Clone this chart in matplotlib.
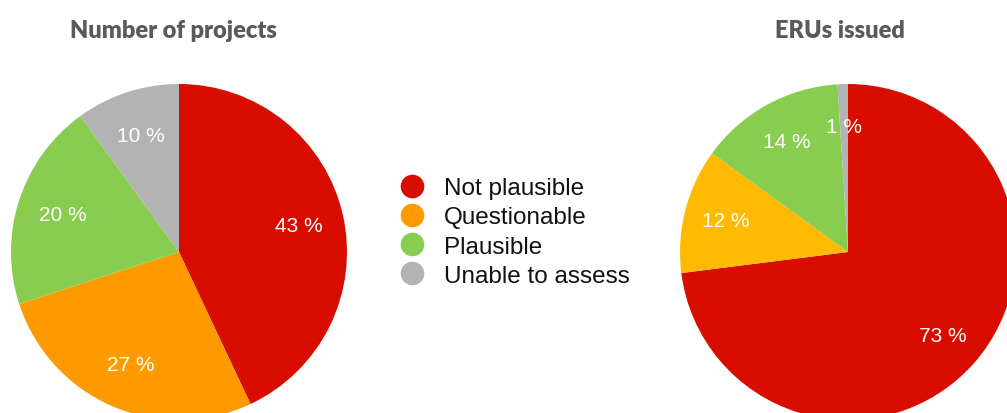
import matplotlib
matplotlib.use("Agg")
import matplotlib.pyplot as plt
from matplotlib.lines import Line2D

categories = ["Not plausible", "Questionable", "Plausible", "Unable to assess"]
projects_share = [43, 27, 20, 10]
erus_share = [73, 12, 14, 1]

colors_projects = ["#D90C00", "#FE9A00", "#88CD4F", "#B3B3B3"]
colors_erus = ["#D90C00", "#FDBA00", "#88CD4F", "#B3B3B3"]

W, H = 1007, 414
fig = plt.figure(figsize=(W / 100, H / 100), dpi=100)
ax = fig.add_axes([0, 0, 1, 1])

label_font = dict(family=["Liberation Sans", "DejaVu Sans"], size=15, color="white")
fmt = lambda p: f"{p:.0f} %"

ax.pie(projects_share, colors=colors_projects, center=(179, H - 253), radius=168,
       startangle=90, counterclock=False, autopct=fmt, pctdistance=0.73,
       textprops=label_font, wedgeprops=dict(linewidth=0), frame=True)
ax.pie(erus_share, colors=colors_erus, center=(848, H - 253), radius=168,
       startangle=90, counterclock=False, autopct=fmt, pctdistance=0.75,
       textprops=label_font, wedgeprops=dict(linewidth=0), frame=True)
ax.set_xlim(0, W)
ax.set_ylim(0, H)
ax.set_aspect("equal")
ax.axis("off")

title_font = dict(family=["Lato", "DejaVu Sans"], size=17, weight="heavy", color="#5A5A5C")
ax.text(173, H - 31, "Number of projects", ha="center", va="center", **title_font)
ax.text(840, H - 31, "ERUs issued", ha="center", va="center", **title_font)

handles = [Line2D([], [], marker="o", linestyle="none", markersize=17,
                  markerfacecolor=c, markeredgewidth=0) for c in colors_projects]
leg = fig.legend(handles, categories, loc="center left", bbox_to_anchor=(388 / W, 1 - 233 / H),
                 frameon=False, prop=dict(family=["Liberation Sans", "DejaVu Sans"], size=17.5),
                 handlelength=1.0, handletextpad=0.8, labelspacing=0.3, borderpad=0)
for t in leg.get_texts():
    t.set_color("#111111")

fig.savefig("out.png", dpi=100)
